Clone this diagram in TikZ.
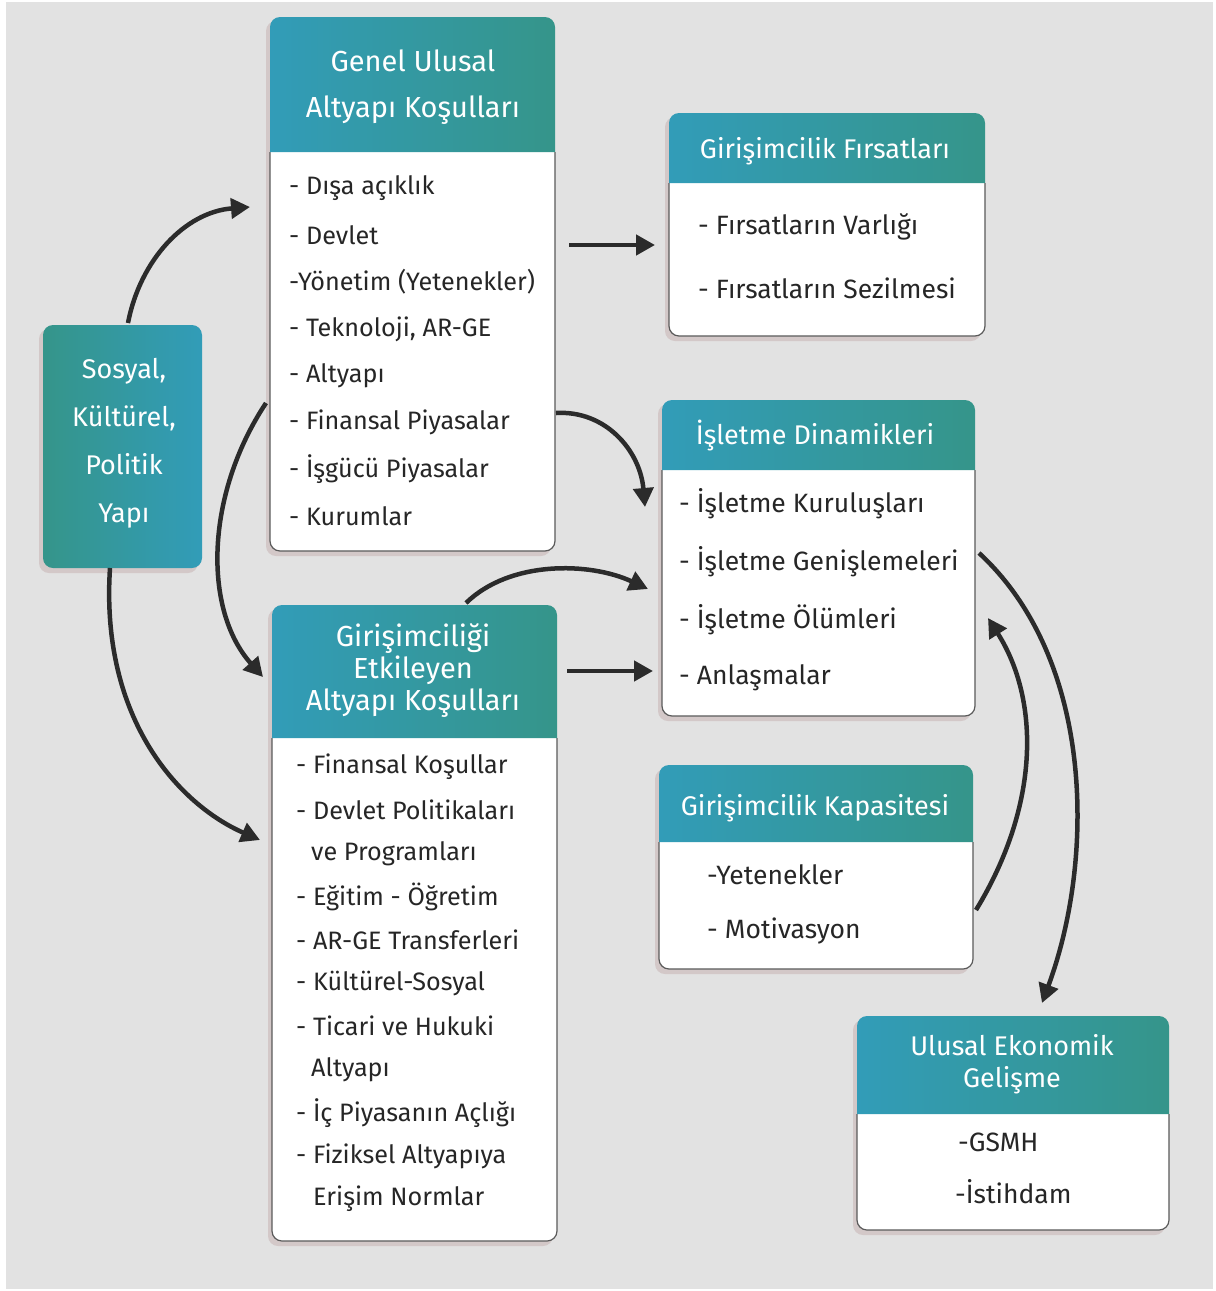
\documentclass[tikz,border=0pt]{standalone}
\usepackage{fontspec}
\setmainfont{Fira Sans}
\usetikzlibrary{arrows.meta,calc}
\definecolor{hblue}{HTML}{329CB8}
\definecolor{hteal}{HTML}{35958A}
\definecolor{bgc}{HTML}{E2E2E2}
\definecolor{shad}{HTML}{D3C8C8}
\definecolor{arr}{HTML}{2B2B2B}
\definecolor{txt}{HTML}{262626}
\definecolor{edge}{HTML}{5A5A5A}
\newcommand\cardbox[5]{%
  \fill[shad,rounded corners=10pt] (#1-4,#2+4) rectangle (#3-4,#5+5);
  \fill[white] (#1,#4) [rounded corners=10pt] -- (#1,#5) -- (#3,#5) [sharp corners] -- (#3,#4) -- cycle;
  \draw[edge,line width=1.2pt] (#1,#4) [rounded corners=10pt] -- (#1,#5) -- (#3,#5) [sharp corners] -- (#3,#4);
  \shade[left color=hblue,right color=hteal] (#1,#4) [rounded corners=10pt] -- (#1,#2) -- (#3,#2) [sharp corners] -- (#3,#4) -- cycle;
}
\begin{document}
\begin{tikzpicture}[x=1pt,y=-1pt,
  boxnode/.style={inner sep=0pt,outer sep=0pt,draw=none,rectangle},
  htext/.style={text=white,align=center,inner sep=0pt},
  item/.style={text=txt,anchor=west,inner sep=0pt,font=\fontsize{25.2}{28}\selectfont},
  itemb/.style={item,font=\fontsize{26.5}{30}\selectfont},
  conn/.style={arr,line width=4.5pt,-{Triangle[length=19pt,width=20pt]}}]
\useasboundingbox (0,0) rectangle (1216,1291);
\fill[bgc] (6,2) rectangle (1213,1289);

% box geometry nodes
\node[boxnode,minimum width=285pt,minimum height=534pt] (gen) at (412.5,284) {};
\node[boxnode,minimum width=316pt,minimum height=223pt] (fir) at (827,224.5) {};
\node[boxnode,minimum width=159pt,minimum height=243pt] (sos) at (122.5,446.5) {};
\node[boxnode,minimum width=313pt,minimum height=316pt] (isl) at (818.5,558) {};
\node[boxnode,minimum width=285pt,minimum height=636pt] (gir) at (414.5,923) {};
\node[boxnode,minimum width=314pt,minimum height=204pt] (kap) at (816,867) {};
\node[boxnode,minimum width=312pt,minimum height=214pt] (ulu) at (1013,1123) {};

% cards
\cardbox{270}{17}{555}{152}{551}
\cardbox{669}{113}{985}{183}{336}
\cardbox{662}{400}{975}{470}{716}
\cardbox{272}{605}{557}{738}{1241}
\cardbox{659}{765}{973}{842}{969}
\cardbox{857}{1016}{1169}{1114}{1230}
\fill[shad,rounded corners=10pt] (39,329) rectangle (198,573);
\shade[left color=hteal,right color=hblue,rounded corners=10pt] (43,325) rectangle (202,568);

% header texts
\node[htext,font=\fontsize{29}{46}\selectfont] (genh) at (413,87) {Genel Ulusal\\Altyapı Koşulları};
\node[htext,font=\fontsize{27}{30}\selectfont] (firh) at (825,151) {Girişimcilik Fırsatları};
\node[htext,font=\fontsize{27}{48}\selectfont] (sosh) at (124,443) {Sosyal,\\Kültürel,\\Politik\\Yapı};
\node[htext,font=\fontsize{27}{30}\selectfont] (islh) at (815,436) {İşletme Dinamikleri};
\node[htext,font=\fontsize{29}{32}\selectfont] (girh) at (413,671) {Girişimciliği\\Etkileyen\\Altyapı Koşulları};
\node[htext,font=\fontsize{27}{30}\selectfont] (kaph) at (815,808) {Girişimcilik Kapasitesi};
\node[htext,font=\fontsize{27}{32}\selectfont] (uluh) at (1012,1064) {Ulusal Ekonomik\\Gelişme};

% items
\foreach \n/\y/\t in {1/188/{- Dışa açıklık},2/235/{- Devlet},3/282/{-Yönetim (Yetenekler)},4/329/{- Teknoloji, AR-GE},5/376/{- Altyapı},6/422/{- Finansal Piyasalar},7/469/{- İşgücü Piyasalar},8/516/{- Kurumlar}}
  \node[item] (g\n) at (289,\y) {\t};
\node[itemb] (f1) at (698,227) {- Fırsatların Varlığı};
\node[itemb] (f2) at (698,288) {- Fırsatların Sezilmesi};
\foreach \n/\y/\t in {1/504/{- İşletme Kuruluşları},2/562/{- İşletme Genişlemeleri},3/620/{- İşletme Ölümleri},4/678/{- Anlaşmalar}}
  \node[itemb] (i\n) at (679,\y) {\t};
\foreach \n/\x/\y/\t in {1/296/767/{- Finansal Koşullar},2/296/810/{- Devlet Politikaları},3/311/854/{ve Programları},4/296/897/{- Eğitim - Öğretim},5/296/940/{- AR-GE Transferleri},6/296/983/{- Kültürel-Sosyal},7/296/1026/{- Ticari ve Hukuki},8/311/1070/{Altyapı},9/296/1113/{- İç Piyasanın Açlığı},10/296/1156/{- Fiziksel Altyapıya},11/313/1199/{Erişim Normlar}}
  \node[item] (e\n) at (\x,\y) {\t};
\node[itemb] (k1) at (707,875) {-Yetenekler};
\node[itemb] (k2) at (707,931) {- Motivasyon};
\node[itemb] (u1) at (958,1142) {-GSMH};
\node[itemb] (u2) at (955,1192) {-İstihdam};

% arrow end coordinates
\coordinate (aend) at (250,207);
\coordinate (bend) at (260,840);
\coordinate (cend) at (263,677);
\coordinate (eend) at (645,507);
\coordinate (fend) at (648,589);
\coordinate (hend) at (988,618);
\coordinate (iend) at (1042,1003);

% connectors
\draw[conn] ($(sos.north)+(5.5,-2)$) .. controls (140,260) and (185,212) .. (aend);
\draw[conn] ($(sos.south)+(-12.5,0)$) .. controls (100,720) and (180,805) .. (bend);
\draw[conn] ($(gen.west)+(-4,119)$) .. controls (205,495) and (203,610) .. (cend);
\draw[conn] ($(gen.east)+(14,-39)$) -- ($(fir.west)+(-14,20.5)$);
\draw[conn] ($(gen.east)+(1,129)$) .. controls (605,410) and (640,450) .. (eend);
\draw[conn] ($(gir.north)+(51.5,-2)$) .. controls (510,560) and (590,562) .. (fend);
\draw[conn] ($(gir.east)+(10,-252)$) -- ($(isl.west)+(-9,113)$);
\draw[conn] ($(kap.east)+(3,43)$) .. controls (1040,805) and (1040,700) .. (hend);
\draw[conn] ($(isl.east)+(4,-5)$) .. controls (1095,660) and (1095,860) .. (iend);
\end{tikzpicture}
\end{document}
